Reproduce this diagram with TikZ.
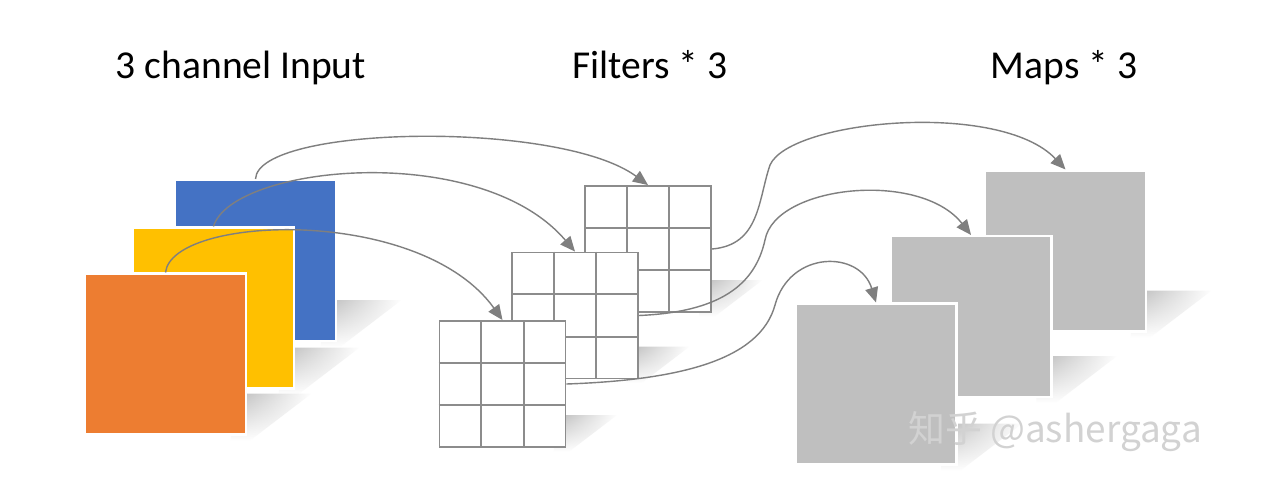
\documentclass[tikz,border=0pt]{standalone}
\usepackage{fontspec}
\setmainfont{Carlito}
\newfontfamily\cjk{Noto Sans CJK SC}
\usetikzlibrary{arrows.meta,calc,backgrounds,fadings}

\definecolor{inblue}{HTML}{4472C4}
\definecolor{inyellow}{HTML}{FFC000}
\definecolor{inorange}{HTML}{ED7D31}
\definecolor{mapgray}{HTML}{BFBFBF}
\definecolor{linkgray}{HTML}{7F7F7F}
\definecolor{gridgray}{HTML}{8C8C8C}

\tikzset{
  plane/.style={draw=white, line width=1.2pt, minimum size=3.22cm, inner sep=0pt},
  kernel/.style={draw=gridgray, line width=1.1pt, fill=white, minimum size=2.52cm, inner sep=0pt},
  link/.style={draw=linkgray, line width=0.8pt, -{Triangle[length=3mm,width=2.6mm]}},
  title/.style={font=\fontsize{22.5}{26}\selectfont, anchor=base},
}

% soft floor shadow to the right of a square: #1 node, #2 side in px
\newcommand{\floorshadow}[2]{%
\begin{pgfonlayer}{background}
\shade[top color=gray!55, bottom color=white, path fading=east]
  ($(#1.south east)+(-0.1*#2,-0.26*#2)$) -- ($(#1.south east)+(0.4*#2,-0.26*#2)$)
  -- ($(#1.south east)+(0.02*#2,0.03*#2)$) -- ($(#1.south east)+(-0.1*#2,0.03*#2)$) -- cycle;
\end{pgfonlayer}%
}

\begin{document}
\begin{tikzpicture}[x=0.02cm, y=-0.02cm]
    \useasboundingbox (0,0) rectangle (1280,501);
    \begin{pgfonlayer}{background}
        \fill[white] (0,0) rectangle (1280,501);
    \end{pgfonlayer}

    % titles
    \node[title] (tIn) at (241,78) {3 channel Input};
    \node[title] (tFil) at (650,78) {Filters * 3};
    \node[title] (tMap) at (1064,78) {Maps * 3};

    % input channels
    \node[plane, fill=inblue] (inB) at (255.5,260.5) {};
    \node[plane, fill=inyellow] (inY) at (213.5,308) {};
    \node[plane, fill=inorange] (inO) at (165.5,354) {};
    \foreach \n in {inB,inY,inO} {\floorshadow{\n}{161}}

    % filters
    \foreach \n/\x/\y in {fB/648/249, fM/575/315.5, fF/502.5/384} {
        \node[kernel] (\n) at (\x,\y) {};
        \foreach \i in {1,2} {
            \draw[gridgray, line width=1.1pt] ($(\n.north west)!\i/3!(\n.north east)$) -- ($(\n.south west)!\i/3!(\n.south east)$);
            \draw[gridgray, line width=1.1pt] ($(\n.north west)!\i/3!(\n.south west)$) -- ($(\n.north east)!\i/3!(\n.south east)$);
        }
        \floorshadow{\n}{126}
    }

    % maps
    \node[plane, fill=mapgray] (mB) at (1065.5,251) {};
    \node[plane, fill=mapgray] (mM) at (971,316.5) {};
    \node[plane, fill=mapgray] (mF) at (876,384) {};
    \foreach \n in {mB,mM,mF} {\floorshadow{\n}{161}}

    % input -> filters
    \draw[link] (inB.north) .. controls (258,125) and (560,120) .. (fB.north);
    \draw[link] (inY.north) .. controls (232,165) and (480,140) .. (fM.north);
    \draw[link] (inO.north) .. controls (172,215) and (420,205) .. (fF.north);

    % filters -> maps
    \draw[link] (fB.east) .. controls (760,245) and (758,200) .. (770,165) .. controls (790,120) and (1000,100) .. (mB.north);
    \draw[link] (fM.east) .. controls (720,312) and (755,285) .. (765,240) .. controls (775,185) and (920,170) .. (mM.north);
    \draw[link] (fF.east) .. controls (680,380) and (760,360) .. (775,305) .. controls (790,250) and (860,250) .. (mF.north);

    \node[text=gray!35, font=\cjk\fontsize{21}{24}\selectfont] (mark) at (1055,432) {知乎 @ashergaga};
\end{tikzpicture}
\end{document}
